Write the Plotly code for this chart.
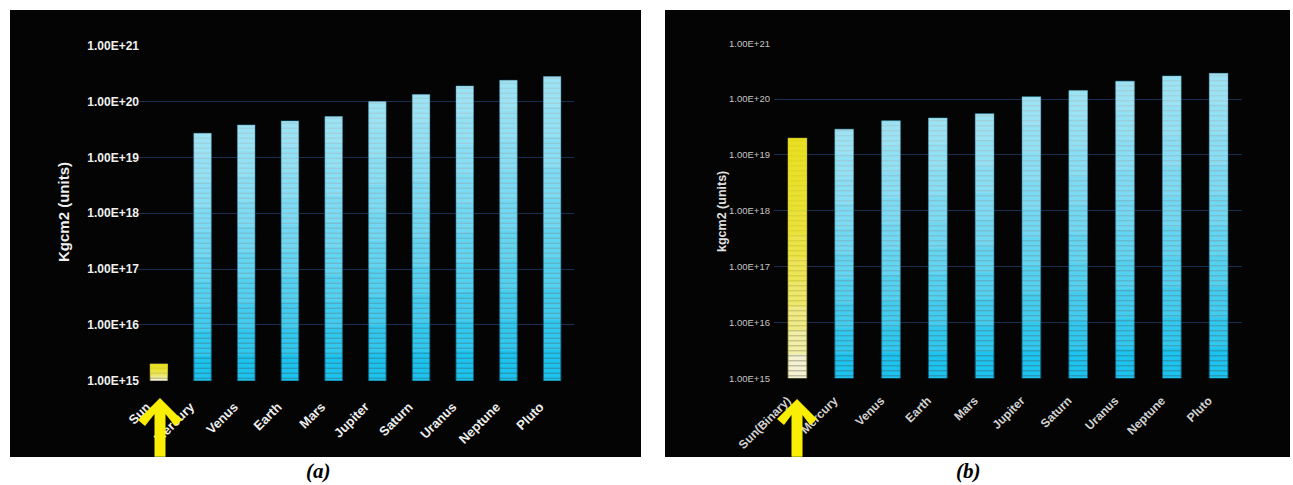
import math
import plotly.graph_objects as go

# ---------------- data ----------------
categories_a = ["Sun", "Mercury", "Venus", "Earth", "Mars", "Jupiter",
                "Saturn", "Uranus", "Neptune", "Pluto"]
values_a = [2.0e15, 2.7e19, 3.8e19, 4.5e19, 5.4e19, 1.0e20,
            1.33e20, 1.9e20, 2.4e20, 2.8e20]

categories_b = ["Sun(Binary)", "Mercury", "Venus", "Earth", "Mars", "Jupiter",
                "Saturn", "Uranus", "Neptune", "Pluto"]
values_b = [2.0e19, 2.9e19, 4.1e19, 4.6e19, 5.5e19, 1.1e20,
            1.43e20, 2.1e20, 2.6e20, 2.9e20]

ytick_vals = [1e15, 1e16, 1e17, 1e18, 1e19, 1e20, 1e21]
ytick_text = ["1.00E+15", "1.00E+16", "1.00E+17", "1.00E+18",
              "1.00E+19", "1.00E+20", "1.00E+21"]

title_a = "Kgcm2 (units)"
title_b = "kgcm2 (units)"
caption_a = "(a)"
caption_b = "(b)"

# ---------------- layout helpers ----------------
W, H = 1293, 485


def px(x):
    return x / W


def py(y):
    return 1 - y / H


FONT = "Liberation Sans, Arial, sans-serif"
N_LAYERS = 10

fig = go.Figure()


def add_bars(cats, vals, xa, ya, sun_index=0):
    bottom_cols = []
    line_cols = []
    for i, _ in enumerate(cats):
        if i == sun_index:
            bottom_cols.append("#f4f2d0")
            line_cols.append("rgba(150,140,60,0.8)")
        else:
            bottom_cols.append("#1cc3ee")
            line_cols.append("rgba(10,95,125,0.9)")
    fig.add_trace(go.Bar(
        x=cats, y=vals, xaxis=xa, yaxis=ya, width=0.4,
        marker=dict(color=bottom_cols,
                    line=dict(color=line_cols, width=1),
                    pattern=dict(shape="-", size=5, solidity=0.18,
                                 fgcolor="rgba(0,70,100,0.35)",
                                 fillmode="overlay")),
        showlegend=False, hoverinfo="x+y"))
    # gradient overlay layers (lighter toward the top of each bar)
    for k in range(1, N_LAYERS):
        frac = k / N_LAYERS
        bases, lens, cols = [], [], []
        for i, v in enumerate(vals):
            b = 10 ** (15 + frac * (math.log10(v) - 15))
            bases.append(b)
            lens.append(v - b)
            if i == sun_index:
                cols.append("rgba(232,224,20,0.22)")
            else:
                cols.append("rgba(255,255,255,0.09)")
        fig.add_trace(go.Bar(
            x=cats, y=lens, base=bases, xaxis=xa, yaxis=ya, width=0.4,
            marker=dict(color=cols, line=dict(width=0)),
            showlegend=False, hoverinfo="skip"))


add_bars(categories_a, values_a, "x", "y")
add_bars(categories_b, values_b, "x2", "y2")

grid_col = "#1b2e50"

fig.update_layout(
    width=W, height=H,
    margin=dict(l=0, r=0, t=0, b=0, pad=0),
    paper_bgcolor="white",
    plot_bgcolor="rgba(0,0,0,0)",
    barmode="overlay",
    showlegend=False,
    xaxis=dict(domain=[px(137), px(574)], anchor="y", type="category",
               range=[-0.5, 9.5], showgrid=False, zeroline=False,
               showline=False, ticks="", tickangle=-45, automargin=False,
               ticklabelstandoff=15, ticklabelshift=-12,
               tickfont=dict(family=FONT, size=13, color="#eeeeee",
                             weight="bold")),
    yaxis=dict(domain=[py(380.7), py(45.7)], anchor="x", type="log",
               range=[15, 21], tickmode="array", tickvals=ytick_vals,
               ticktext=ytick_text, showgrid=True, gridcolor=grid_col,
               gridwidth=1, zeroline=False, showline=False, ticks="",
               automargin=False, ticklabelstandoff=-3,
               tickfont=dict(family=FONT, size=12, color="#f0f0f0",
                             weight="bold")),
    xaxis2=dict(domain=[px(774), px(1242)], anchor="y2", type="category",
                range=[-0.5, 9.5], showgrid=False, zeroline=False,
                showline=False, ticks="", tickangle=-45, automargin=False,
                ticklabelstandoff=12, ticklabelshift=-10,
                tickfont=dict(family=FONT, size=12, color="#d2d2d2",
                              weight="bold")),
    yaxis2=dict(domain=[py(378.3), py(43.3)], anchor="x2", type="log",
                range=[15, 21], tickmode="array", tickvals=ytick_vals,
                ticktext=ytick_text, showgrid=True, gridcolor=grid_col,
                gridwidth=1, zeroline=False, showline=False, ticks="",
                automargin=False, ticklabelstandoff=3,
                tickfont=dict(family=FONT, size=9.5, color="#c4c4c4")),
)

# black panels
for x0, x1 in [(10, 641), (665, 1290)]:
    fig.add_shape(type="rect", xref="paper", yref="paper",
                  x0=px(x0), x1=px(x1), y0=py(457), y1=py(10),
                  fillcolor="#040404", line=dict(width=0), layer="below")


# yellow arrows
def arrow(cx, ty, bottom, hw):
    pts = [(0, 0), (hw, hw), (hw - 7, hw + 6), (5.5, 16), (5.5, None),
           (-5.5, None), (-5.5, 16), (-(hw - 7), hw + 6), (-hw, hw)]
    path = ""
    for j, (dx, dy) in enumerate(pts):
        yy = bottom if dy is None else ty + dy
        path += ("M" if j == 0 else "L") + f"{px(cx + dx):.5f},{py(yy):.5f} "
    path += "Z"
    fig.add_shape(type="path", xref="paper", yref="paper", path=path,
                  fillcolor="#fbee05", line=dict(width=0), layer="above")


arrow(160, 398, 456.7, 22)
arrow(797, 399, 456.7, 20)

# axis titles
fig.add_annotation(text=title_a, xref="paper", yref="paper", x=px(63),
                   y=py(212), xanchor="center", yanchor="middle",
                   textangle=-90, showarrow=False,
                   font=dict(family=FONT, size=15, color="#f0f0f0",
                             weight="bold"))
fig.add_annotation(text=title_b, xref="paper", yref="paper", x=px(722),
                   y=py(212), xanchor="center", yanchor="middle",
                   textangle=-90, showarrow=False,
                   font=dict(family=FONT, size=12.5, color="#e0e0e0",
                             weight="bold"))

# captions
for cap, cx in [(caption_a, 318), (caption_b, 969)]:
    fig.add_annotation(text=cap, xref="paper", yref="paper", x=px(cx),
                       y=py(471), xanchor="center", yanchor="middle",
                       showarrow=False,
                       font=dict(family="Liberation Serif, serif", size=21,
                                 color="black", weight="bold",
                                 style="italic"))

fig.write_html("out.html", config={"displayModeBar": False},
               post_script="document.body.style.margin='0px';")
